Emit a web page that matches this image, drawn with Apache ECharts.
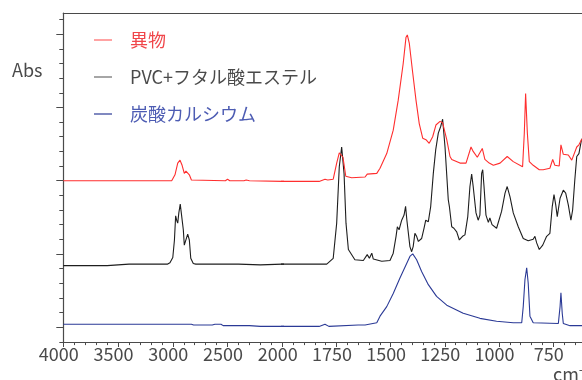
<!DOCTYPE html>
<html>
<head>
<meta charset="utf-8">
<script src="https://cdn.jsdelivr.net/npm/echarts@6/dist/echarts.min.js"></script>
<style>
  html, body { margin: 0; padding: 0; background: #fff; }
  #chart { width: 582px; height: 380px; }
</style>
</head>
<body>
<div id="chart"></div>
<script>
// IR spectra, [wavenumber cm-1, absorbance (offset)]
const foreignPts = [
  [4000, 2.00], [3800, 2.00], [3600, 2.00], [3400, 2.00], [3200, 2.00], [3050, 2.00], [3010, 2.00],
  [2980, 2.08], [2955, 2.24], [2934, 2.28], [2915, 2.21], [2895, 2.10], [2880, 2.13], [2864, 2.15],
  [2849, 2.08], [2830, 2.01], [2813, 2.00], [2520, 2.00], [2500, 2.02], [2480, 2.00], [2350, 2.00],
  [2330, 2.01], [2300, 2.00], [2000, 1.99], [1830, 1.99], [1803, 2.02], [1790, 2.01], [1765, 2.02],
  [1749, 2.24], [1737, 2.38], [1729, 2.40], [1720, 2.32], [1707, 2.06], [1680, 2.04], [1618, 2.05],
  [1608, 2.09], [1564, 2.10], [1549, 2.17], [1518, 2.37], [1488, 2.69], [1465, 3.10], [1442, 3.60],
  [1429, 3.96], [1423, 3.99], [1414, 3.88], [1398, 3.47], [1383, 3.10], [1368, 2.78], [1352, 2.58],
  [1337, 2.56], [1322, 2.51], [1306, 2.60], [1291, 2.76], [1272, 2.81], [1260, 2.79], [1241, 2.56],
  [1226, 2.33], [1218, 2.29], [1180, 2.24], [1152, 2.24], [1129, 2.46], [1119, 2.40], [1100, 2.32],
  [1077, 2.44], [1065, 2.29], [1045, 2.24], [1026, 2.21], [995, 2.24], [962, 2.33], [934, 2.26],
  [891, 2.19], [883, 2.65], [877, 3.19], [869, 2.65], [860, 2.26], [842, 2.21], [814, 2.15],
  [796, 2.15], [765, 2.17], [752, 2.29], [742, 2.21], [722, 2.20], [714, 2.49], [703, 2.36],
  [680, 2.35], [664, 2.28], [641, 2.46], [631, 2.49], [619, 2.56], [600, 2.61]
];
const pvcPts = [
  [4000, 0.84], [3800, 0.84], [3600, 0.84], [3400, 0.86], [3200, 0.86], [3050, 0.86], [3026, 0.88],
  [3000, 0.95], [2985, 1.19], [2974, 1.52], [2965, 1.46], [2955, 1.42], [2945, 1.56], [2932, 1.68],
  [2920, 1.53], [2904, 1.33], [2895, 1.12], [2882, 1.13], [2864, 1.27], [2849, 1.19], [2836, 0.94],
  [2813, 0.87], [2790, 0.86], [2400, 0.86], [2200, 0.85], [2000, 0.86], [1795, 0.86], [1765, 0.94],
  [1749, 1.42], [1737, 2.19], [1726, 2.46], [1715, 2.10], [1706, 1.42], [1695, 1.06], [1665, 0.92],
  [1626, 0.91], [1608, 0.99], [1598, 0.94], [1587, 1.01], [1580, 0.93], [1541, 0.90], [1503, 0.91],
  [1488, 1.01], [1475, 1.24], [1469, 1.37], [1461, 1.33], [1449, 1.46], [1438, 1.53], [1431, 1.65],
  [1425, 1.46], [1411, 1.10], [1403, 1.03], [1396, 1.10], [1388, 1.28], [1380, 1.24], [1372, 1.17],
  [1357, 1.21], [1346, 1.35], [1338, 1.46], [1326, 1.44], [1315, 1.65], [1303, 2.10], [1292, 2.42],
  [1280, 2.65], [1269, 2.74], [1260, 2.84], [1249, 2.46], [1234, 1.74], [1229, 1.65], [1218, 1.37],
  [1208, 1.35], [1195, 1.30], [1183, 1.19], [1168, 1.24], [1157, 1.26], [1144, 1.51], [1134, 1.92],
  [1126, 2.09], [1119, 1.92], [1106, 1.56], [1096, 1.46], [1088, 1.53], [1080, 2.10], [1075, 2.15],
  [1069, 1.92], [1060, 1.53], [1049, 1.43], [1042, 1.49], [1032, 1.40], [1011, 1.35], [988, 1.58],
  [972, 1.83], [962, 1.92], [949, 1.78], [934, 1.56], [911, 1.37], [888, 1.21], [865, 1.18],
  [842, 1.20], [834, 1.24], [826, 1.15], [814, 1.06], [798, 1.12], [780, 1.24], [765, 1.28],
  [754, 1.65], [746, 1.81], [738, 1.67], [731, 1.51], [718, 1.76], [703, 1.87], [692, 1.83],
  [680, 1.67], [668, 1.46], [660, 1.60], [650, 2.01], [641, 2.33], [631, 2.37], [619, 2.56], [600, 2.62]
];
const calcitePts = [
  [4000, 0.04], [2830, 0.04], [2810, 0.03], [2640, 0.03], [2615, 0.04], [2560, 0.04], [2540, 0.02],
  [2300, 0.02], [2200, 0.01], [2000, 0.01], [1830, 0.01], [1803, 0.04], [1785, 0.01], [1650, 0.03],
  [1618, 0.03], [1564, 0.06], [1549, 0.15], [1518, 0.28], [1488, 0.46], [1457, 0.67], [1426, 0.87],
  [1410, 0.97], [1398, 1.00], [1380, 0.92], [1357, 0.76], [1326, 0.58], [1288, 0.42], [1241, 0.30],
  [1165, 0.19], [1088, 0.12], [1011, 0.08], [934, 0.06], [895, 0.06], [888, 0.28], [880, 0.65],
  [872, 0.81], [865, 0.60], [857, 0.15], [842, 0.06], [726, 0.05], [718, 0.28], [714, 0.47],
  [708, 0.19], [703, 0.05], [672, 0.02], [600, 0.02]
];
const seriesNames = ['異物', 'PVC+フタル酸エステル', '炭酸カルシウム'];
const yMajorTicks = [0, 1, 2, 3, 4];
const yMinorTicks = [-0.2, 0.2, 0.4, 0.6, 0.8, 1.2, 1.4, 1.6, 1.8, 2.2, 2.4, 2.6, 2.8,
  3.2, 3.4, 3.6, 3.8, 4.2];

const FONT = '"Noto Sans CJK JP", "Noto Sans", sans-serif';
const AXIS_COLOR = '#4a4a4a';
const lineColors = ['#ff2e2e', '#1e1e1e', '#2b3a96'];
const legendIconColors = ['#ff6666', '#6a6a6a', '#2b3a96'];
const legendTextColors = ['#f0464a', '#4a4a4a', '#4d5cb3'];
const yMin = -0.21, yMax = 4.29;

const chart = echarts.init(document.getElementById('chart'));

// the wavenumber axis is split at 2000 cm-1: the part below is drawn at twice the scale
const traces = [foreignPts, pvcPts, calcitePts];
const series = [];
[0, 1].forEach(g => {
  traces.forEach((pts, i) => {
    series.push({
      name: seriesNames[i],
      type: 'line',
      xAxisIndex: g,
      yAxisIndex: g === 0 ? 0 : 2,
      data: pts,
      symbol: 'none',
      showSymbol: false,
      clip: true,
      lineStyle: { color: lineColors[i], width: 1.1 },
      itemStyle: { color: lineColors[i] },
      z: 3 - i
    });
  });
});

const bottomAxis = (g, min, max, interval) => ({
  type: 'value',
  gridIndex: g,
  inverse: true,
  min: min,
  max: max,
  interval: interval,
  position: 'bottom',
  axisLine: { show: true, onZero: false, lineStyle: { color: AXIS_COLOR, width: 1.2 } },
  axisTick: { show: true, length: 4.5, lineStyle: { color: AXIS_COLOR } },
  minorTick: { show: true, splitNumber: 5, length: 2.6, lineStyle: { color: AXIS_COLOR } },
  splitLine: { show: false },
  minorSplitLine: { show: false },
  axisLabel: {
    color: '#4a4a4a',
    fontFamily: FONT,
    fontSize: 18,
    margin: 3,
    padding: [0, 9, 0, 0],
    formatter: v => (g === 1 && v === 2000) ? '' : String(v)
  }
});
const topAxis = (g, min, max) => ({
  type: 'value',
  gridIndex: g,
  inverse: true,
  min: min,
  max: max,
  position: 'top',
  axisLine: { show: true, onZero: false, lineStyle: { color: AXIS_COLOR, width: 1.2 } },
  axisTick: { show: false },
  axisLabel: { show: false },
  splitLine: { show: false }
});

const option = {
  animation: false,
  backgroundColor: '#ffffff',
  title: [
    {
      text: 'Abs', left: 12, top: 61, padding: 0,
      textStyle: { fontFamily: FONT, fontSize: 18, fontWeight: 'normal', color: '#4a4a4a' }
    },
    {
      text: 'cm⁻¹', left: 553, top: 365, padding: 0,
      textStyle: { fontFamily: FONT, fontSize: 18, fontWeight: 'normal', color: '#4a4a4a' }
    }
  ],
  legend: {
    orient: 'vertical',
    left: 94,
    top: 30,
    padding: 0,
    itemGap: 17,
    itemWidth: 18,
    itemHeight: 1.2,
    icon: 'rect',
    selectedMode: false,
    textStyle: { fontFamily: FONT, fontSize: 18, lineHeight: 20, padding: [0, 0, 0, 13] },
    data: seriesNames.map((n, i) => ({
      name: n,
      itemStyle: { color: legendIconColors[i] },
      textStyle: { color: legendTextColors[i] }
    }))
  },
  grid: [
    { left: 63.3, top: 13, width: 219, bottom: 37.5, outerBoundsMode: 'none', containLabel: false },
    { left: 282.3, top: 13, width: 325, bottom: 37.5, outerBoundsMode: 'none', containLabel: false }
  ],
  xAxis: [
    bottomAxis(0, 2000, 4000, 500),
    bottomAxis(1, 500, 2000, 250),
    topAxis(0, 2000, 4000),
    topAxis(1, 500, 2000)
  ],
  yAxis: [
    {
      type: 'value', gridIndex: 0, position: 'left', min: yMin, max: yMax,
      axisLine: { show: true, onZero: false, lineStyle: { color: AXIS_COLOR, width: 1.2 } },
      axisTick: { show: true, length: 7, customValues: yMajorTicks, lineStyle: { color: AXIS_COLOR } },
      axisLabel: { show: false },
      splitLine: { show: false }
    },
    {
      type: 'value', gridIndex: 0, position: 'left', min: yMin, max: yMax,
      axisLine: { show: false, onZero: false },
      axisTick: { show: true, length: 4, customValues: yMinorTicks, lineStyle: { color: AXIS_COLOR } },
      axisLabel: { show: false },
      splitLine: { show: false }
    },
    {
      type: 'value', gridIndex: 1, min: yMin, max: yMax, show: false
    }
  ],
  series: series
};

chart.setOption(option);
</script>
</body>
</html>
